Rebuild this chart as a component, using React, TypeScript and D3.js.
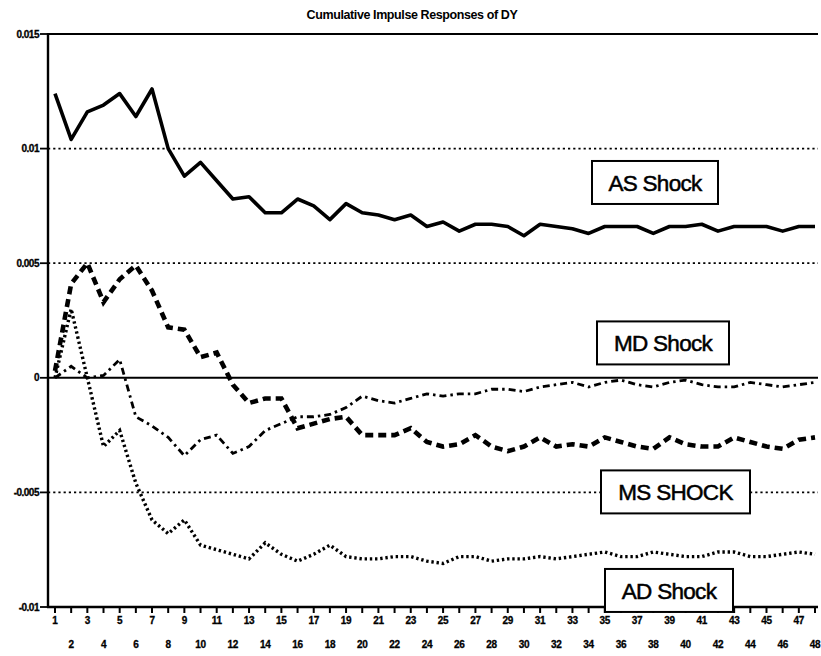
import React from "react";
import * as d3 from "d3";

const periods: number[] = d3.range(1, 49);

const asShock: number[] = [
  0.0124, 0.0104, 0.0116, 0.0119, 0.0124, 0.0114, 0.0126, 0.0100, 0.0088, 0.0094,
  0.0086, 0.0078, 0.0079, 0.0072, 0.0072, 0.0078, 0.0075, 0.0069, 0.0076, 0.0072,
  0.0071, 0.0069, 0.0071, 0.0066, 0.0068, 0.0064, 0.0067, 0.0067, 0.0066, 0.0062,
  0.0067, 0.0066, 0.0065, 0.0063, 0.0066, 0.0066, 0.0066, 0.0063, 0.0066, 0.0066,
  0.0067, 0.0064, 0.0066, 0.0066, 0.0066, 0.0064, 0.0066, 0.0066,
];

const msShock: number[] = [
  0.0003, 0.0041, 0.0050, 0.0033, 0.0043, 0.0049, 0.0038, 0.0022, 0.0021, 0.0009,
  0.0011, -0.0003, -0.0011, -0.0009, -0.0009, -0.0022, -0.0020, -0.0018, -0.0017, -0.0025,
  -0.0025, -0.0025, -0.0022, -0.0028, -0.0030, -0.0029, -0.0025, -0.0030, -0.0032, -0.0030,
  -0.0026, -0.0030, -0.0029, -0.0030, -0.0026, -0.0028, -0.0030, -0.0031, -0.0026, -0.0029,
  -0.0030, -0.0030, -0.0026, -0.0028, -0.0030, -0.0031, -0.0027, -0.0026,
];

const mdShock: number[] = [
  0.0000, 0.0005, 0.0000, 0.0001, 0.0008, -0.0017, -0.0021, -0.0026, -0.0034, -0.0027,
  -0.0025, -0.0033, -0.0030, -0.0023, -0.0020, -0.0017, -0.0017, -0.0016, -0.0013, -0.0008,
  -0.0010, -0.0011, -0.0009, -0.0007, -0.0008, -0.0007, -0.0007, -0.0005, -0.0005, -0.0006,
  -0.0004, -0.0003, -0.0002, -0.0004, -0.0002, -0.0001, -0.0003, -0.0004, -0.0002, -0.0001,
  -0.0003, -0.0004, -0.0004, -0.0002, -0.0003, -0.0004, -0.0003, -0.0002,
];

const adShock: number[] = [
  0.0000, 0.0030, 0.0000, -0.0030, -0.0023, -0.0046, -0.0062, -0.0068, -0.0062, -0.0073,
  -0.0075, -0.0077, -0.0079, -0.0072, -0.0077, -0.0080, -0.0077, -0.0073, -0.0078, -0.0079,
  -0.0079, -0.0078, -0.0078, -0.0080, -0.0081, -0.0078, -0.0078, -0.0080, -0.0079, -0.0079,
  -0.0078, -0.0079, -0.0078, -0.0077, -0.0076, -0.0078, -0.0078, -0.0076, -0.0077, -0.0078,
  -0.0078, -0.0076, -0.0076, -0.0078, -0.0078, -0.0077, -0.0076, -0.0077,
];

const yTicks: number[] = [0.015, 0.01, 0.005, 0, -0.005, -0.01];
const yTickLabels: string[] = ["0.015", "0.01", "0.005", "0", "-0.005", "-0.01"];
const gridValues: number[] = [0.01, 0.005, -0.005];

const title = "Cumulative Impulse Responses of DY";
const labelTexts: string[] = ["AS Shock", "MD Shock", "MS SHOCK", "AD Shock"];
const labelValues: number[] = [0.0085, 0.0015, -0.005, -0.0093];

const W = 821;
const H = 656;
const left = 48;
const right = 818;
const top = 34;
const bottom = 607;

export default function App() {
  const x = d3.scaleLinear().domain([1, 48]).range([55, 815]);
  const y = d3.scaleLinear().domain([-0.01, 0.015]).range([bottom, top]);
  const line = d3
    .line<number>()
    .x((_, i) => x(periods[i]))
    .y((d) => y(d));

  const labelBoxes = [
    { x: 592, w: 126 },
    { x: 597, w: 132 },
    { x: 601, w: 149 },
    { x: 605, w: 128 },
  ];

  return (
    <svg
      width={W}
      height={H}
      style={{ position: "absolute", left: 0, top: 0, background: "#fff" }}
      fontFamily="'Liberation Sans', Arial, sans-serif"
    >
      <rect x={0} y={0} width={W} height={H} fill="#fff" />
      <text x={412} y={19} textAnchor="middle" fontSize={12.5} fontWeight="bold" letterSpacing={-0.4}>
        {title}
      </text>

      {/* grid lines */}
      {gridValues.map((v) => (
        <line
          key={v}
          x1={left}
          x2={right}
          y1={y(v)}
          y2={y(v)}
          stroke="#000"
          strokeWidth={1.7}
          strokeDasharray="2.2,3"
        />
      ))}
      {/* zero line */}
      <line x1={left} x2={right} y1={y(0)} y2={y(0)} stroke="#000" strokeWidth={2} />
      {/* top frame */}
      <line x1={left} x2={right} y1={top} y2={top} stroke="#000" strokeWidth={2} />
      {/* axes */}
      <line x1={left} x2={left} y1={top - 1} y2={bottom + 1} stroke="#000" strokeWidth={2.4} />
      <line x1={left - 1} x2={right} y1={bottom} y2={bottom} stroke="#000" strokeWidth={2.4} />

      {/* y ticks */}
      {yTicks.map((v, i) => (
        <g key={v}>
          <line x1={left - 8} x2={left} y1={y(v)} y2={y(v)} stroke="#000" strokeWidth={1.8} />
          <text
            x={left - 9}
            y={y(v) + 3.5}
            textAnchor="end"
            fontSize={10}
            fontWeight="bold"
            letterSpacing={-0.5}
            stroke="#000"
            strokeWidth={0.3}
          >
            {yTickLabels[i]}
          </text>
        </g>
      ))}

      {/* x ticks */}
      {periods.map((p) => (
        <g key={p}>
          <line x1={x(p)} x2={x(p)} y1={bottom} y2={bottom + 6} stroke="#000" strokeWidth={2} />
          <text
            x={x(p)}
            y={p % 2 === 1 ? 624 : 648}
            textAnchor="middle"
            fontSize={10}
            fontWeight="bold"
            letterSpacing={-0.3}
            stroke="#000"
            strokeWidth={0.3}
          >
            {p}
          </text>
        </g>
      ))}

      {/* series */}
      <path d={line(adShock) || ""} fill="none" stroke="#000" strokeWidth={3.4} strokeDasharray="2.4,2.8" />
      <path d={line(mdShock) || ""} fill="none" stroke="#000" strokeWidth={2.8} strokeDasharray="7,4,2.5,4" />
      <path d={line(msShock) || ""} fill="none" stroke="#000" strokeWidth={4.6} strokeDasharray="8,5" />
      <path d={line(asShock) || ""} fill="none" stroke="#000" strokeWidth={3.6} strokeLinejoin="round" />

      {/* label boxes */}
      {labelTexts.map((t, i) => {
        const cy = y(labelValues[i]);
        const b = labelBoxes[i];
        return (
          <g key={t}>
            <rect x={b.x} y={cy - 22} width={b.w} height={43} fill="#fff" stroke="#000" strokeWidth={2} />
            <text
              x={b.x + b.w / 2}
              y={cy + 8}
              textAnchor="middle"
              fontSize={22.5}
              letterSpacing={-0.7}
              stroke="#000"
              strokeWidth={0.5}
            >
              {t}
            </text>
          </g>
        );
      })}
    </svg>
  );
}
